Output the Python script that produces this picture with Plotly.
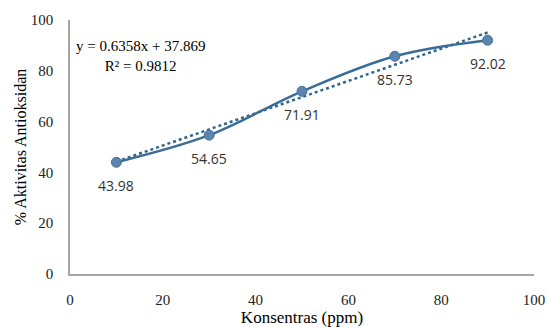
import numpy as np
import plotly.graph_objects as go

konsentrasi = [10, 30, 50, 70, 90]
aktivitas = [43.98, 54.65, 71.91, 85.73, 92.02]
label_text = ["43.98", "54.65", "71.91", "85.73", "92.02"]
x_ticks = [0, 20, 40, 60, 80, 100]
y_ticks = [0, 20, 40, 60, 80, 100]
eq_text = "y = 0.6358x + 37.869"
r2_text = "R² = 0.9812"

slope, intercept = np.polyfit(konsentrasi, aktivitas, 1)
trend_x = [konsentrasi[0], konsentrasi[-1]]
trend_y = [slope * v + intercept for v in trend_x]

SERIF = "Liberation Serif"
SANS = "Open Sans"

fig = go.Figure()
fig.add_trace(go.Scatter(
    x=trend_x, y=trend_y, mode="lines",
    line=dict(color="#2f6690", width=2.5, dash="dot"),
    hoverinfo="skip", showlegend=False))
fig.add_trace(go.Scatter(
    x=konsentrasi, y=aktivitas, mode="lines+markers",
    line=dict(color="#3a6d96", width=2.5, shape="spline", smoothing=1.0),
    marker=dict(size=10, color="#5b84b1", line=dict(color="#46719c", width=1)),
    showlegend=False))

for xv, yv, t in zip(konsentrasi, aktivitas, label_text):
    fig.add_annotation(x=xv, y=yv, text=t, showarrow=False, yshift=-23,
                       font=dict(family=SANS, size=14, color="#333333"))

fig.add_annotation(xref="paper", yref="paper", x=(140 - 70) / 464, y=(274 - 56) / 254,
                   xanchor="center", yanchor="middle",
                   text=eq_text + "<br>" + r2_text, showarrow=False, align="center",
                   font=dict(family=SERIF, size=15, color="#000000"))

axis_font = dict(family=SERIF, size=15, color="#222222")
fig.update_layout(
    width=547, height=327,
    font=dict(family=SERIF),
    margin=dict(l=70, r=13, t=20, b=53, autoexpand=False),
    plot_bgcolor="white", paper_bgcolor="white",
    xaxis=dict(range=[0, 100], tickvals=x_ticks, showgrid=False, zeroline=False,
               showline=True, linecolor="#a6a6a6", linewidth=1.5, automargin=False,
               ticks="outside", ticklen=0, ticklabelstandoff=11, tickfont=axis_font,
               title=dict(text="Konsentras (ppm)", font=dict(family=SERIF, size=17, color="#000000"), standoff=4)),
    yaxis=dict(range=[0, 100], tickvals=y_ticks, showgrid=False, zeroline=False,
               showline=True, linecolor="#a6a6a6", linewidth=1.5, automargin=False,
               ticks="outside", ticklen=0, ticklabelstandoff=12, tickfont=axis_font,
               title=dict(text="% Aktivitas Antioksidan", font=dict(family=SERIF, size=16, color="#000000"), standoff=0)),
)

fig.write_html("out.html", config={"displayModeBar": False},
               post_script="document.body.style.margin='0';document.body.style.overflow='hidden';")
